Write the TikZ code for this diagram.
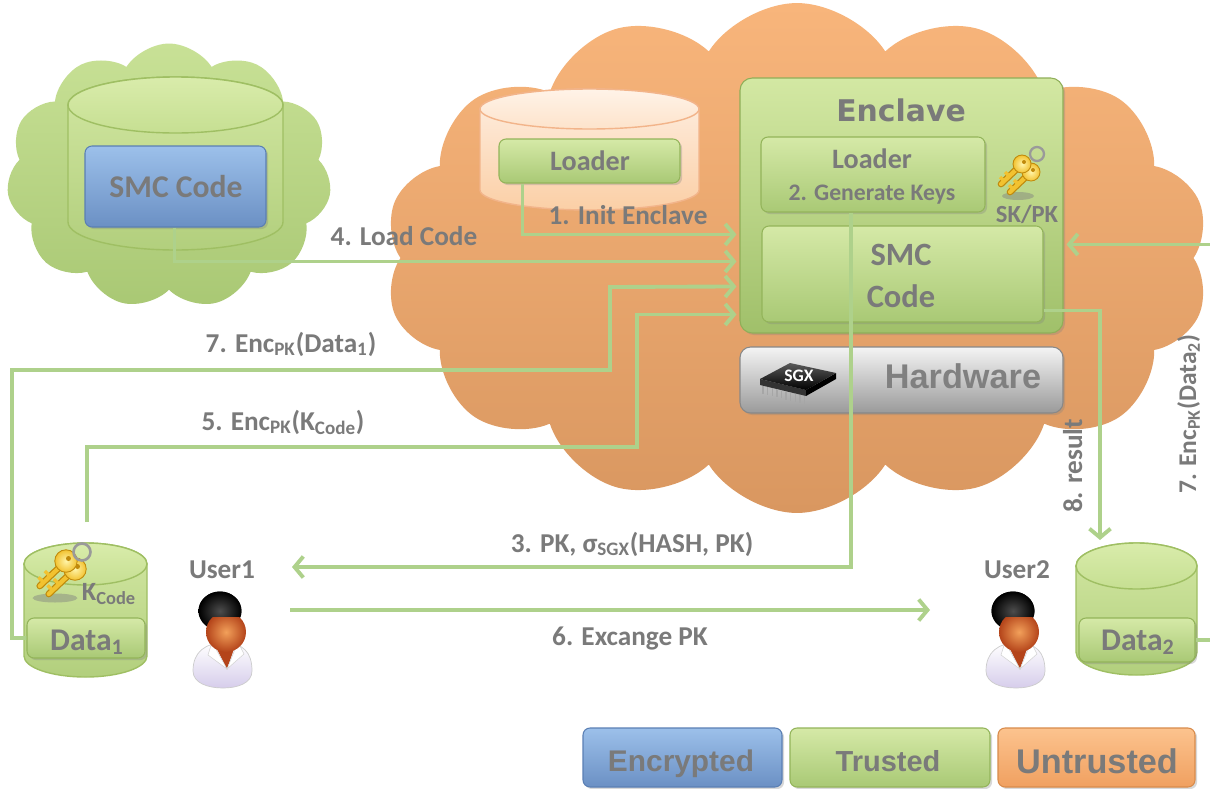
\documentclass[tikz,border=0pt]{standalone}
\usepackage{fontspec}
\setmainfont{Carlito}
\newfontfamily\wideface{DejaVu Sans}
\newfontfamily\arialface{Liberation Sans}
\usetikzlibrary{shapes.symbols,arrows.meta,calc,fit,shadows}

\newcommand\setfs[1]{\fontsize{#1}{#1}\selectfont}

% drum (cylinder): left, right, top, bottom, cap half-height, body style, cap style
\newcommand\drum[7]{%
  \pgfmathsetmacro\drumcx{(#1+#2)/2}%
  \pgfmathsetmacro\drumrx{(#2-#1)/2*0.02}%
  \pgfmathsetmacro\drumry{#5*0.02}%
  \pgfmathsetmacro\drumtop{#3+#5}%
  \pgfmathsetmacro\drumbot{#4-#5}%
  \path[#6] (#1,\drumtop) -- (#1,\drumbot)
     arc[start angle=180,end angle=360,x radius=\drumrx cm,y radius=\drumry cm]
     -- (#2,\drumtop)
     arc[start angle=0,end angle=180,x radius=\drumrx cm,y radius=\drumry cm] -- cycle;
  \path[#7] (\drumcx,\drumtop) ellipse[x radius=\drumrx cm,y radius=\drumry cm];
}

\definecolor{txtgray}{HTML}{7A7A7A}
\definecolor{wireC}{HTML}{AED18B}
\definecolor{orTop}{HTML}{F8B57B}
\definecolor{orBot}{HTML}{D99760}
\definecolor{tcTop}{HTML}{C8E196}
\definecolor{tcBot}{HTML}{A9C874}
\definecolor{cyTop}{HTML}{D2E7A2}
\definecolor{cyBot}{HTML}{B2CF7D}
\definecolor{cyEdge}{HTML}{9FBF63}
\definecolor{cyCapTop}{HTML}{D9ECAB}
\definecolor{cyCapBot}{HTML}{C6DF92}
\definecolor{paTop}{HTML}{FEEFE2}
\definecolor{paBot}{HTML}{FBCFA6}
\definecolor{paEdge}{HTML}{F2B48A}
\definecolor{paCapTop}{HTML}{FFF3E8}
\definecolor{paCapBot}{HTML}{FDE3CB}
\definecolor{gbTop}{HTML}{D5E9A7}
\definecolor{gbBot}{HTML}{A9C975}
\definecolor{gbEdge}{HTML}{93B45A}
\definecolor{enTop}{HTML}{D3E8A3}
\definecolor{enBot}{HTML}{A0C06A}
\definecolor{enEdge}{HTML}{8FAE58}
\definecolor{blTop}{HTML}{9CC0EA}
\definecolor{blBot}{HTML}{6B90C4}
\definecolor{blEdge}{HTML}{5A7FB4}
\definecolor{ogTop}{HTML}{FCC38E}
\definecolor{ogBot}{HTML}{F0A060}
\definecolor{ogEdge}{HTML}{D88B4B}
\definecolor{hwTop}{HTML}{F4F4F4}
\definecolor{hwBot}{HTML}{9A9A9A}
\definecolor{hwEdge}{HTML}{888888}
\definecolor{keyLight}{HTML}{FFF4A8}
\definecolor{keyBody}{HTML}{F2C230}
\definecolor{keyEdge}{HTML}{C08A0C}
\definecolor{ringGray}{HTML}{9A9A9A}
\definecolor{shirtLav}{HTML}{D6CDEB}
\definecolor{faceLt}{HTML}{F2A05A}
\definecolor{faceDk}{HTML}{B4441A}

\tikzset{
  lbl/.style={text=txtgray, inner sep=0pt, font=\bfseries\setfs{15.5}},
  boxbase/.style={inner sep=0pt, rounded corners=4pt, line width=0.6pt, text=txtgray,
    drop shadow={opacity=0.3, shadow xshift=1.2pt, shadow yshift=-1.2pt}},
  greenbox/.style={boxbase, top color=gbTop, bottom color=gbBot, draw=gbEdge},
  enclbox/.style={boxbase, rounded corners=7pt, top color=enTop, bottom color=enBot, draw=enEdge},
  bluebox/.style={boxbase, top color=blTop, bottom color=blBot, draw=blEdge},
  orangebox/.style={boxbase, top color=ogTop, bottom color=ogBot, draw=ogEdge},
  hwbox/.style={boxbase, rounded corners=6pt, top color=hwTop, bottom color=hwBot, draw=hwEdge},
  cylbody/.style={top color=cyTop, bottom color=cyBot, draw=cyEdge, line width=0.8pt},
  cylcap/.style={top color=cyCapTop, bottom color=cyCapBot, draw=cyEdge, line width=0.8pt},
  palebody/.style={top color=paTop, bottom color=paBot, draw=paEdge, line width=0.8pt},
  palecap/.style={top color=paCapTop, bottom color=paCapBot, draw=paEdge, line width=0.8pt},
  wire/.style={draw=wireC, line width=2.2pt},
  wirearrow/.style={wire, -{Straight Barb[length=5pt, width=12pt]}},
  goldkey/.pic={
    \draw[keyEdge, line width=3.8pt, line cap=round] (0,0) -- (-21,20);
    \draw[keyBody, line width=2.4pt, line cap=round] (0,0) -- (-21,20);
    \draw[keyBody, line width=2pt] (-13,12) -- (-17,8) (-18,17) -- (-22,13);
    \path[inner color=keyLight, outer color=keyBody, draw=keyEdge, line width=0.5pt]
      (0,0) circle[radius=0.18cm];
    \fill[keyEdge] (2,-2) circle[radius=0.04cm];
  },
  person/.pic={
    % shirt
    \path[top color=white, bottom color=shirtLav, draw=gray!40, line width=0.4pt]
      (-27,60) .. controls (-27,41) and (-15,32) .. (4,32)
      .. controls (23,32) and (32,41) .. (32,60)
      .. controls (32,72) and (18,77) .. (3,77)
      .. controls (-12,77) and (-27,72) .. (-27,60) -- cycle;
    % neck opening
    \fill[faceDk] (-6,32) -- (16,32) -- (7,58) -- cycle;
    % collar
    \path[fill=white, draw=gray!35, line width=0.3pt] (-8,31) -- (7,58) -- (-12,44) -- cycle;
    \path[fill=white, draw=gray!35, line width=0.3pt] (18,31) -- (7,58) -- (24,43) -- cycle;
    % hair
    \path[inner color=gray!60!black, outer color=black] (0,0) ellipse[x radius=0.43cm, y radius=0.39cm];
    % face
    \path[inner color=faceLt, outer color=faceDk] (6,21) ellipse[x radius=0.4cm, y radius=0.4cm];
    % fringe over the forehead
    \begin{scope}
      \clip (-30,-30) rectangle (40,5);
      \path[inner color=gray!60!black, outer color=black] (0,0) ellipse[x radius=0.43cm, y radius=0.39cm];
    \end{scope}
  }
}

\begin{document}
\begin{tikzpicture}[x=0.02cm, y=-0.02cm]
\useasboundingbox (0,0) rectangle (1210,788);
\fill[white] (0,0) rectangle (1210,788);

% clouds
\node[cloud, cloud puffs=14, cloud puff arc=115, cloud ignores aspect,
      minimum width=16.5cm, minimum height=10.2cm, inner sep=0pt,
      top color=orTop, bottom color=orBot] (ucloud) at (797,258) {};
\node[cloud, cloud puffs=11, cloud puff arc=115, cloud ignores aspect,
      minimum width=6.5cm, minimum height=5.3cm, inner sep=0pt,
      top color=tcTop, bottom color=tcBot] (tcloud) at (169,176) {};

% storage drums
\drum{68}{283}{77}{250}{28}{cylbody}{cylcap}
\drum{480}{699}{89}{210}{20}{palebody}{palecap}
\drum{24}{147}{543}{677}{21}{cylbody}{cylcap}
\drum{1076}{1197}{543}{675}{23}{cylbody}{cylcap}

% code and loader on disk
\node[bluebox, fit={(85,146)(266,227)}] (smccode) {};
\node[lbl, anchor=base, font=\bfseries\setfs{18}] (smcname) at (176,197) {SMC Code};
\node[greenbox, fit={(499,139)(680,183)}] (ldr) {};
\node[lbl, anchor=base, font=\bfseries\setfs{16}] (ldrname) at (590,170) {Loader};

% enclave
\node[enclbox, fit={(740,78)(1063,333)}] (encl) {};
\node[lbl, anchor=base, font=\wideface\bfseries\setfs{17}] (encltitle) at (901,121) {Enclave};
\node[greenbox, fit={(761,137)(985,212)}] (eldr) {};
\node[lbl, anchor=base, font=\bfseries\setfs{16}] (eldrname) at (872,168) {Loader};
\node[lbl, anchor=base, font=\bfseries\setfs{13.5}] (genkeys) at (872,200) {2. Generate Keys};
\node[greenbox, fit={(762,226)(1043,322)}] (esmc) {};
\node[lbl, anchor=base, font=\bfseries\setfs{18.5}] (esmcA) at (901,265) {SMC};
\node[lbl, anchor=base, font=\bfseries\setfs{18.5}] (esmcB) at (901,307) {Code};

% key pair inside the enclave
\fill[gray, opacity=0.45] (1018,196) ellipse[x radius=0.32cm, y radius=0.08cm];
\pic at (1031,172) {goldkey};
\pic at (1022,164) {goldkey};
\draw[ringGray, line width=1.3pt] (1037,154) circle[radius=0.14cm];
\node[lbl, anchor=base, font=\bfseries\setfs{14}] (skpk) at (1027,222) {SK/PK};

% hardware
\node[hwbox, fit={(740,347)(1063,413)}] (hw) {};
\node[lbl, anchor=base, text=gray, font=\arialface\bfseries\setfs{19.5}] (hwname) at (963,388) {Hardware};
\fill[black!80] (760,379) -- (806,390) -- (806,396) -- (760,385) -- cycle;
\fill[black] (806,390) -- (836,373) -- (836,379) -- (806,396) -- cycle;
\path[top color=gray!70!black, bottom color=black] (760,379) -- (790,363) -- (836,373) -- (806,390) -- cycle;
\foreach \k in {0,...,9} \draw[gray!70, line width=0.8pt] ({763+\k*4.6},{386+\k*1.1}) -- ++(0,8);
\node[font=\bfseries\setfs{10}, text=white, inner sep=0pt] (sgxtag) at (799,376) {SGX};

% data stores
\node[greenbox, fit={(27,618)(145,658)}] (d1) {};
\node[lbl, anchor=base, font=\bfseries\setfs{18}] (d1name) at (87,650) {Data\textsubscript{1}};
\node[greenbox, fit={(1079,618)(1195,662)}] (d2) {};
\node[lbl, anchor=base, font=\bfseries\setfs{18}] (d2name) at (1138,650) {Data\textsubscript{2}};

% code key on data store 1
\fill[gray, opacity=0.45] (55,598) ellipse[x radius=0.45cm, y radius=0.09cm];
\pic[scale=1.25] at (75,569) {goldkey};
\pic[scale=1.25] at (66,561) {goldkey};
\draw[ringGray, line width=1.5pt] (82,552) circle[radius=0.17cm];
\node[lbl, anchor=base, font=\bfseries\setfs{15}] (kcode) at (109,600) {K\textsubscript{Code}};

% users
\node[lbl, anchor=base] (u1name) at (222,578) {User1};
\node[lbl, anchor=base] (u2name) at (1017,578) {User2};
\pic at (220,611) {person};
\pic at (1013,611) {person};

% legend
\node[bluebox, fit={(583,728)(782,787)}] (legenc) {};
\node[lbl, anchor=base, font=\arialface\bfseries\setfs{17}] (legencname) at (681,771) {Encrypted};
\node[greenbox, fit={(790,728)(990,787)}] (legtru) {};
\node[lbl, anchor=base, font=\arialface\bfseries\setfs{16.5}] (legtruname) at (888,771) {Trusted};
\node[orangebox, fit={(998,728)(1195,787)}] (legunt) {};
\node[lbl, anchor=base, font=\arialface\bfseries\setfs{19.5}] (leguntname) at (1097,773) {Untrusted};

% connector end points
\coordinate (kc) at (87,522);
\coordinate (u1in) at (292,567);
\coordinate (u1out) at (290,610);
\coordinate (u2in) at (930,610);
\coordinate (d2top) at (1100,540);

% connectors
\draw[wirearrow] ($(ldr.south west)+(24,0)$) |- ($(encl.north west)+(-3,157)$);
\draw[wirearrow] ($(smccode.south west)+(90,0)$) |- ($(encl.north west)+(-3,184)$);
\draw[wirearrow] (d1.west) -| (12,370) -| (610,287) -- ($(encl.north west)+(-3,209)$);
\draw[wirearrow] (kc) |- (637,447) |- ($(encl.north west)+(-3,237)$);
\draw[wirearrow] ($(eldr.south)+(-22,0)$) |- (u1in);
\draw[wirearrow] (u1out) -- (u2in);
\draw[wirearrow] ($(esmc.south east)+(0,-12)$) -| (d2top);
\draw[wirearrow] (d2.east) -- (1222,640) |- ($(encl.north east)+(3,167)$);

% connector labels
\node[lbl, anchor=base] (l1) at (628,224) {1. Init Enclave};
\node[lbl, anchor=base] (l4) at (404,245) {4. Load Code};
\node[lbl, anchor=base] (l7a) at (291,352) {7. Enc\textsubscript{PK}(Data\textsubscript{1})};
\node[lbl, anchor=base] (l5) at (283,430) {5. Enc\textsubscript{PK}(K\textsubscript{Code})};
\node[lbl, anchor=base] (l3) at (632,552) {3. PK, σ\textsubscript{SGX}(HASH, PK)};
\node[lbl, anchor=base] (l6) at (630,645) {6. Excange PK};
\node[lbl, anchor=base, rotate=90] (l8) at (1082,466) {8. result};
\node[lbl, anchor=base, rotate=90, font=\bfseries\setfs{14.5}] (l7b) at (1196,414) {7. Enc\textsubscript{PK}(Data\textsubscript{2})};
\end{tikzpicture}
\end{document}
